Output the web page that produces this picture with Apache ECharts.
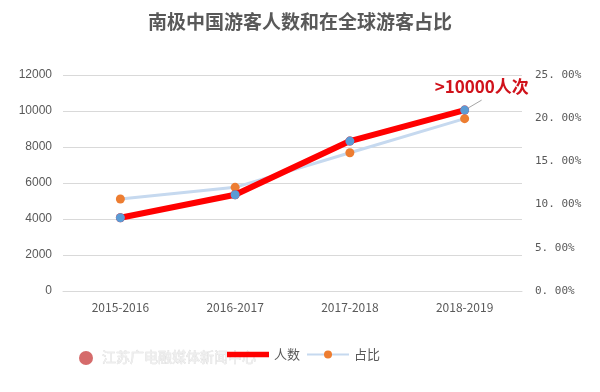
<!DOCTYPE html>
<html><head><meta charset="utf-8">
<script src="https://cdn.jsdelivr.net/npm/echarts@6/dist/echarts.min.js"></script>
<style>html,body{margin:0;padding:0;background:#fff}#c{width:600px;height:392px}</style>
</head><body><div id="c"></div>
<script>
var categories = ['2015-2016', '2016-2017', '2017-2018', '2018-2019'];
var visitors = [4070, 5350, 8330, 10050];
var share = [10.65, 12.0, 16.0, 19.95];
var leftTicks = {min: 0, max: 12000, interval: 2000};
var rightTicks = {min: 0, max: 25, interval: 5};
var annotation = '>10000人次';
var titleText = '南极中国游客人数和在全球游客占比';
var watermark = '江苏广电融媒体新闻中心';

var chart = echarts.init(document.getElementById('c'));
var gray = '#595959';
var option = {
  animation: false,
  backgroundColor: '#fff',
  title: {
    text: titleText, left: 'center', top: 7,
    textStyle: {fontFamily: 'Noto Sans CJK SC', fontSize: 19, fontWeight: 'bold', color: gray}
  },
  grid: {left: 63, right: 78, top: 75, bottom: 101},
  legend: {
    bottom: 26, left: 222, itemGap: 6, itemWidth: 42, itemHeight: 10,
    textStyle: {fontFamily: 'Noto Sans CJK SC', fontSize: 13, color: gray},
    data: [
      {name: '人数', icon: 'path://M0,3 L30,3 L30,7 L0,7 Z'},
      {name: '占比'}
    ]
  },
  xAxis: {
    type: 'category', data: categories, boundaryGap: true,
    axisLine: {show: true, lineStyle: {color: '#d9d9d9'}},
    axisTick: {show: false},
    axisLabel: {color: gray, fontSize: 12, margin: 10, fontFamily: 'Noto Sans CJK SC'}
  },
  yAxis: [
    {
      type: 'value', min: leftTicks.min, max: leftTicks.max, interval: leftTicks.interval,
      axisLine: {show: false}, axisTick: {show: false},
      splitLine: {lineStyle: {color: '#d9d9d9'}},
      axisLabel: {color: gray, fontSize: 12, margin: 11, fontFamily: 'Liberation Sans',
        formatter: function (v) { return String(v); }}
    },
    {
      type: 'value', min: rightTicks.min, max: rightTicks.max, interval: rightTicks.interval,
      axisLine: {show: false}, axisTick: {show: false}, splitLine: {show: false},
      axisLabel: {color: gray, fontSize: 11, margin: 13, fontFamily: 'DejaVu Sans Mono',
        formatter: function (v) { return v.toFixed(2).replace('.', '. ') + '%'; }}
    }
  ],
  series: [
    {
      name: '人数', type: 'line', yAxisIndex: 0, data: visitors, z: 3,
      lineStyle: {color: '#ff0000', width: 6},
      itemStyle: {color: '#ff0000'},
      symbol: 'circle', symbolSize: 9,
      emphasis: {disabled: true}
    },
    {
      name: '占比', type: 'line', yAxisIndex: 1, data: share, z: 2,
      lineStyle: {color: '#c6d9ef', width: 3},
      itemStyle: {color: '#ed7d31'},
      symbol: 'circle', symbolSize: 9,
      emphasis: {disabled: true}
    },
    {
      name: 'markers', type: 'line', yAxisIndex: 0, data: visitors, z: 4,
      lineStyle: {opacity: 0}, itemStyle: {color: '#5b9bd5'},
      symbol: 'circle', symbolSize: 9, legendHoverLink: false,
      emphasis: {disabled: true}
    }
  ]
};
chart.setOption(option);
var last = visitors.length - 1;
var p = chart.convertToPixel({xAxisIndex: 0, yAxisIndex: 0}, [last, visitors[last]]);
chart.setOption({
  graphic: [
    {type: 'line', shape: {x1: p[0], y1: p[1], x2: p[0] + 17, y2: p[1] - 10},
      style: {stroke: '#a6a6a6', lineWidth: 1}, z: 1},
    {type: 'text', x: p[0] - 30, y: p[1] - 32,
      style: {text: annotation, fill: '#d0121b', font: 'bold 17px "Noto Sans CJK SC"'}, z: 10},
    {type: 'circle', shape: {cx: 86, cy: 358, r: 7}, style: {fill: '#c73a3a', opacity: 0.75}},
    {type: 'text', x: 102, y: 350,
      style: {text: watermark, fill: '#eeeeee', font: '14px "Noto Sans CJK SC"',
        stroke: '#d8d8d8', lineWidth: 0.5}, z: 0}
  ]
});
</script></body></html>
